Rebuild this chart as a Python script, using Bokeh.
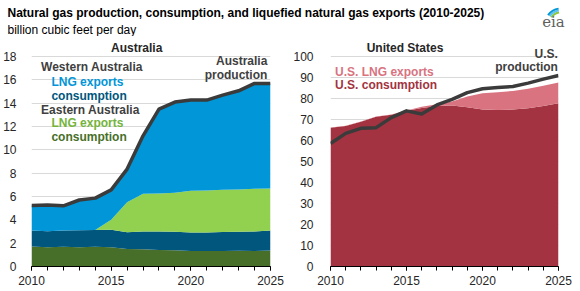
from bokeh.plotting import figure
from bokeh.models import Range1d, FixedTicker, Label, ColumnDataSource
from bokeh.layouts import column, row
from bokeh.embed import file_html
from bokeh.resources import INLINE

FONT = "Liberation Sans"

years = list(range(2010, 2026))
x_major = [2010, 2015, 2020, 2025]

# Australia (billion cubic feet per day)
aus_east_cons = [1.71, 1.65, 1.70, 1.66, 1.70, 1.65, 1.50, 1.47, 1.42, 1.40, 1.33, 1.32, 1.32, 1.36, 1.32, 1.37]
aus_west_cons = [1.38, 1.38, 1.38, 1.44, 1.42, 1.49, 1.44, 1.53, 1.58, 1.58, 1.58, 1.60, 1.63, 1.62, 1.68, 1.72]
aus_east_lng = [0.0, 0.0, 0.0, 0.0, 0.0, 0.86, 2.56, 3.23, 3.25, 3.34, 3.59, 3.60, 3.63, 3.62, 3.66, 3.60]
aus_west_lng = [2.14, 2.25, 2.12, 2.60, 2.74, 2.57, 2.79, 4.97, 7.24, 7.77, 7.77, 7.74, 8.11, 8.46, 9.03, 9.00]
aus_production = [5.23, 5.28, 5.20, 5.70, 5.86, 6.57, 8.35, 11.2, 13.49, 14.09, 14.27, 14.26, 14.69, 15.06, 15.69, 15.69]

# United States
us_consumption = [66.1, 66.9, 68.9, 71.3, 72.3, 74.2, 75.5, 76.4, 76.6, 75.8, 74.7, 74.5, 74.7, 75.3, 76.4, 77.7]
us_lng = [0.1, 0.1, 0.1, 0.1, 0.1, 0.1, 0.5, 0.9, 1.9, 5.1, 7.8, 8.5, 8.9, 9.3, 9.6, 9.9]
us_production = [58.6, 63.4, 65.8, 66.1, 70.9, 74.1, 72.6, 76.9, 79.6, 82.8, 84.6, 85.2, 85.7, 87.3, 89.2, 90.9]

aus_ticks = list(range(0, 19, 2))
us_ticks = list(range(0, 101, 10))

C_BLUE = "#0096d7"
C_DBLUE = "#00567d"
C_LGREEN = "#92d050"
C_DGREEN = "#476f29"
C_RED = "#a33340"
C_PINK = "#d8737f"
C_LINE = "#3b3b3b"
C_TXT = "#404040"


def base_fig(ymax, yticks, bl, br, standoff):
    p = figure(width=290, height=255, x_range=Range1d(2010, 2025), y_range=Range1d(0, ymax),
               output_backend="svg", toolbar_location=None,
               min_border_left=bl, min_border_right=br, min_border_top=4, min_border_bottom=25)
    p.outline_line_color = None
    p.xgrid.visible = False
    p.ygrid.ticker = FixedTicker(ticks=yticks)
    p.ygrid.grid_line_color = "#d9d9d9"
    p.ygrid.grid_line_width = 1
    p.xaxis.ticker = FixedTicker(ticks=x_major, minor_ticks=years)
    p.xaxis.axis_line_color = "black"
    p.xaxis.major_tick_line_color = "black"
    p.xaxis.minor_tick_line_color = "black"
    p.xaxis.major_tick_out = 4
    p.xaxis.major_tick_in = 0
    p.xaxis.minor_tick_out = 4
    p.xaxis.minor_tick_in = 0
    p.xaxis.major_label_standoff = 5
    p.yaxis.ticker = FixedTicker(ticks=yticks)
    p.yaxis.axis_line_color = None
    p.yaxis.major_tick_line_color = None
    p.yaxis.minor_tick_line_color = None
    p.yaxis.major_label_standoff = standoff
    for ax in (p.xaxis, p.yaxis):
        ax.major_label_text_font = FONT
        ax.major_label_text_font_size = "12px"
        ax.major_label_text_color = "#262626"
    return p


def lab(p, x, y, text, color, align="left", size="12px", bold=True):
    p.add_layout(Label(x=x, y=y, text=text, text_color=color, text_align=align,
                       text_baseline="middle", text_font=FONT, text_font_size=size,
                       text_font_style="bold" if bold else "normal"))


# ---- Australia panel
src_a = ColumnDataSource(dict(year=years, ec=aus_east_cons, wc=aus_west_cons,
                              el=aus_east_lng, wl=aus_west_lng))
pa = base_fig(19.37, aus_ticks, 30, 20, 9)
pa.varea_stack(["ec", "wc", "el", "wl"], x="year", source=src_a,
               color=[C_DGREEN, C_DBLUE, C_LGREEN, C_BLUE])
pa.line(years, aus_production, line_width=3.5, color=C_LINE, line_join="round")
lab(pa, 2016.6, 18.69, "Australia", "#262626", align="center")
lab(pa, 2010.6, 17.14, "Western Australia", C_TXT)
lab(pa, 2011.25, 15.85, "LNG exports", C_BLUE)
lab(pa, 2011.25, 14.65, "consumption", C_DBLUE)
lab(pa, 2010.6, 13.45, "Eastern Australia", C_TXT)
lab(pa, 2011.25, 12.34, "LNG exports", "#74b43c")
lab(pa, 2011.25, 11.14, "consumption", C_DGREEN)
lab(pa, 2024.8, 17.6, "Australia", C_TXT, align="right")
lab(pa, 2024.8, 16.45, "production", C_TXT, align="right")

# ---- United States panel
src_u = ColumnDataSource(dict(year=years, cons=us_consumption, lng=us_lng))
pu = base_fig(107.6, us_ticks, 34, 22, 11)
pu.varea_stack(["cons", "lng"], x="year", source=src_u, color=[C_RED, C_PINK])
pu.line(years, us_production, line_width=3.5, color=C_LINE, line_join="round")
lab(pu, 2014.9, 103.8, "United States", "#262626", align="center")
lab(pu, 2010.3, 92.4, "U.S. LNG exports", C_PINK)
lab(pu, 2010.3, 86.2, "U.S. consumption", C_RED)
lab(pu, 2024.96, 101.4, "U.S.", C_TXT, align="right")
lab(pu, 2024.96, 94.8, "production", C_TXT, align="right")

# ---- header with title, units and logo
ph = figure(width=580, height=36, x_range=Range1d(0, 580), y_range=Range1d(0, 36),
            output_backend="svg", toolbar_location=None, x_axis_type=None, y_axis_type=None,
            min_border_left=0, min_border_right=0, min_border_top=0, min_border_bottom=0)
ph.outline_line_color = None
ph.grid.visible = False
lab(ph, 7, 24, "Natural gas production, consumption, and liquefied natural gas exports (2010-2025)",
    "black", size="12px")
lab(ph, 7, 7, "billion cubic feet per day", "black", size="12px", bold=False)
# eia logo
ph.arc(x=[560, 560, 560], y=[13, 13, 13], radius=[11, 13, 15], start_angle=[1.7, 1.7, 1.7],
       end_angle=[2.55, 2.55, 2.55], color=["#8dc63f", "#5bc0eb", C_BLUE], line_width=2)
ph.add_layout(Label(x=553, y=15, text="eia", text_color="#5f5f5f", text_align="center",
                    text_baseline="middle", text_font="DejaVu Serif", text_font_size="15px"))

layout = column(ph, row(pa, pu))
open("out.html", "w").write(file_html(layout, INLINE))
